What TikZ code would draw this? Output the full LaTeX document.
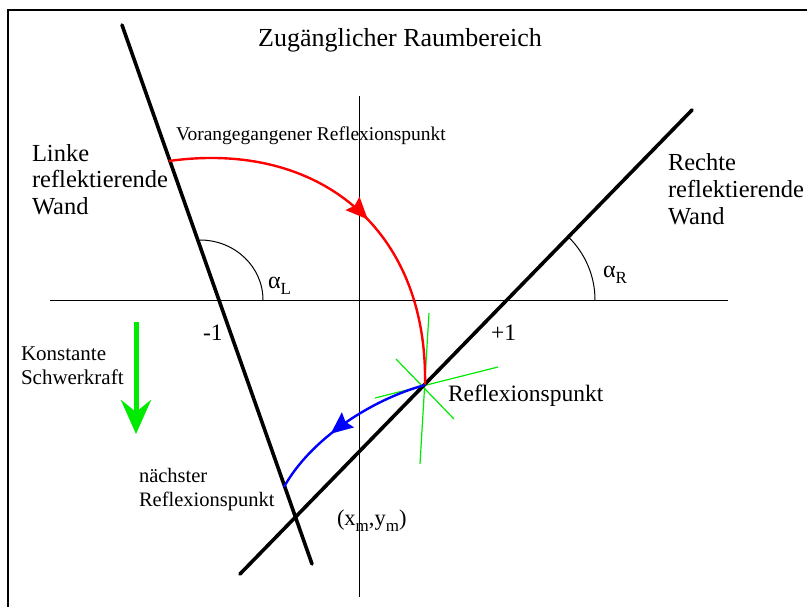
\documentclass[tikz,border=0pt]{standalone}
\usepackage{fontspec}
\setmainfont{Liberation Serif}
\usetikzlibrary{arrows.meta,decorations.markings}
\definecolor{pgreen}{RGB}{0,235,0}
\definecolor{pred}{RGB}{255,0,0}
\definecolor{pblue}{RGB}{0,0,255}
\tikzset{
  wall/.style={line width=3.6pt, line cap=round},
  axis/.style={line width=1pt},
  anglearc/.style={line width=1pt},
  txt/.style={anchor=base west, inner sep=0pt, outer sep=0pt},
  greenline/.style={pgreen, line width=1.2pt},
  trajred/.style={pred, line width=2.4pt, postaction={decorate},
    decoration={markings, mark=at position 0.545 with {\arrow{Stealth[length=22pt,width=19pt,inset=3pt]}}}},
  trajblue/.style={pblue, line width=2.4pt, postaction={decorate},
    decoration={markings, mark=at position 0.60 with {\arrow{Stealth[length=22pt,width=19pt,inset=3pt]}}}},
}
\newcommand{\subL}[1]{\raisebox{-6pt}{\fontsize{17}{17}\selectfont #1}}
\begin{document}
\begin{tikzpicture}[x=1pt,y=-1pt]
\useasboundingbox (0,0) rectangle (807,607);
\clip (0,0) rectangle (807,607);
\fill[white] (0,0) rectangle (807,607);
% frame
\draw[line width=2pt] (8,620) -- (8,10) -- (820,10);
% coordinates
\coordinate (axL) at (50,300);
\coordinate (axR) at (728,300);
\coordinate (ayT) at (359,96);
\coordinate (ayB) at (359,597);
\coordinate (lw1) at (122,25);
\coordinate (lw2) at (312,564);
\coordinate (rw1) at (692,110);
\coordinate (rw2) at (240,574);
\coordinate (prev) at (169,161);
\coordinate (rp) at (425,385);
\coordinate (next) at (284,487);
% axes
\draw[axis] (axL) -- (axR);
\draw[axis] (ayT) -- (ayB);
% angle arcs
\draw[anglearc] (263,300) arc[start angle=0,end angle=90,x radius=63pt,y radius=60pt];
\draw[anglearc] (595,300) arc[start angle=0,end angle=45.7,radius=88pt];
% green lines at reflection point
\coordinate (g1a) at (429,313); \coordinate (g1b) at (420,464);
\coordinate (g2a) at (396,359); \coordinate (g2b) at (454,419);
\coordinate (g3a) at (375,398); \coordinate (g3b) at (498,367);
\draw[greenline] (g1a) -- (g1b);
\draw[greenline] (g2a) -- (g2b);
\draw[greenline] (g3a) -- (g3b);
% walls
\draw[wall] (lw1) -- (lw2);
\draw[wall] (rw1) -- (rw2);
% trajectories
\draw[trajred] (prev) .. controls (320,140) and (428,230) .. (rp);
\draw[trajblue] (rp) .. controls (370,400) and (310,440) .. (next);
% gravity arrow
\coordinate (gt) at (136,322);
\coordinate (gb) at (136,434);
\draw[pgreen, line width=5pt, -{Stealth[length=34pt,width=30pt,inset=12pt]}] (gt) -- (gb);
% texts
\node[anchor=base, inner sep=0pt] (title) at (400,47) {\fontsize{26}{30}\selectfont Zugänglicher Raumbereich};
\node[txt] (vor) at (176,141) {\fontsize{19.5}{22}\selectfont Vorangegangener Reflexionspunkt};
\node[txt] (lw-a) at (32,162) {\fontsize{24.5}{28}\selectfont Linke};
\node[txt] (lw-b) at (32,188) {\fontsize{24.5}{28}\selectfont reflektierende};
\node[txt] (lw-c) at (32,215) {\fontsize{24.5}{28}\selectfont Wand};
\node[txt] (rw-a) at (668,171) {\fontsize{24.5}{28}\selectfont Rechte};
\node[txt] (rw-b) at (668,198) {\fontsize{24.5}{28}\selectfont reflektierende};
\node[txt] (rw-c) at (668,225) {\fontsize{24.5}{28}\selectfont Wand};
\node[txt] (aL) at (268,288) {\fontsize{24}{26}\selectfont α\subL{L}};
\node[txt] (aR) at (603,277) {\fontsize{24}{26}\selectfont α\subL{R}};
\node[txt] (m1) at (203,340) {\fontsize{23.5}{26}\selectfont -1};
\node[txt] (p1) at (491,341) {\fontsize{23.5}{26}\selectfont +1};
\node[txt] (k1) at (21,360) {\fontsize{21}{24}\selectfont Konstante};
\node[txt] (k2) at (21,384) {\fontsize{21}{24}\selectfont Schwerkraft};
\node[txt] (rpl) at (448,401) {\fontsize{23.5}{26}\selectfont Reflexionspunkt};
\node[txt] (n1) at (139,482) {\fontsize{20.5}{24}\selectfont nächster};
\node[txt] (n2) at (139,506) {\fontsize{20.5}{24}\selectfont Reflexionspunkt};
\node[txt] (xy) at (337,525) {\fontsize{22.5}{26}\selectfont (x\subL{m},y\subL{m})};
\end{tikzpicture}
\end{document}
